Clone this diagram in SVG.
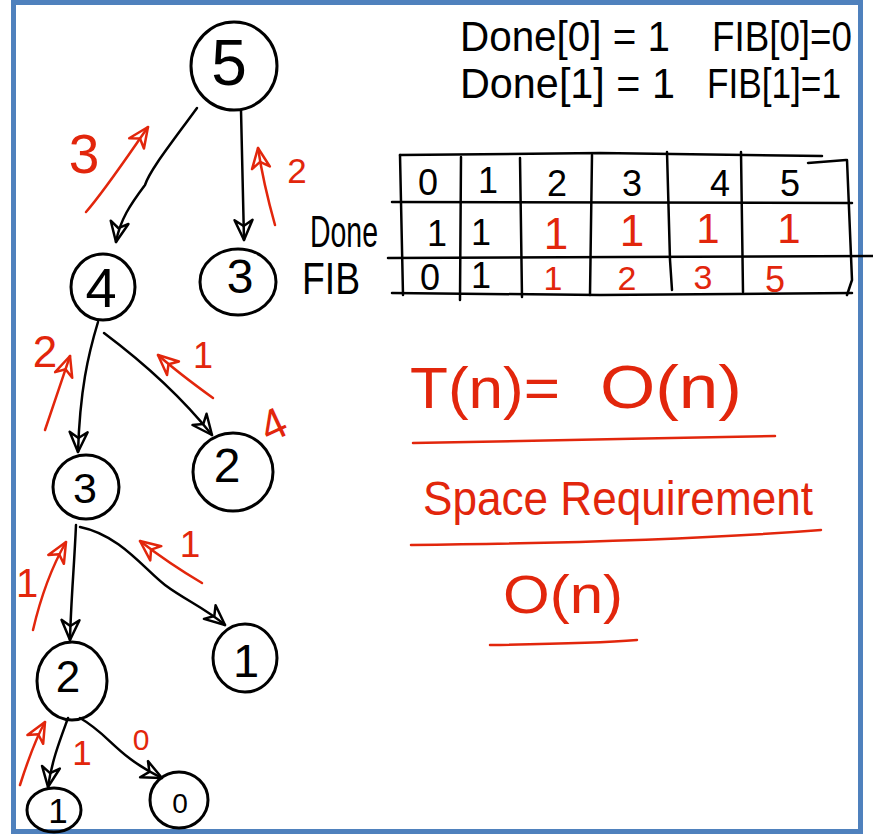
<svg xmlns="http://www.w3.org/2000/svg" width="873" height="835" viewBox="0 0 873 835">
<style>
.bg{fill:#ffffff}
.frame{fill:none;stroke:#4f81bd;stroke-width:5}
.node{fill:none;stroke:#000;stroke-width:3}
.nt{font-family:"Liberation Sans",Arial,sans-serif;fill:#000;text-anchor:middle}
.edge{fill:none;stroke:#000;stroke-width:2.5;stroke-linecap:round;marker-end:url(#ahB)}
.ret{fill:none;stroke:#e2260c;stroke-width:2.5;stroke-linecap:round;marker-end:url(#ahR)}
.rt{font-family:"Liberation Sans",Arial,sans-serif;fill:#e2260c}
.bt{font-family:"Liberation Sans",Arial,sans-serif;fill:#000}
.tl{fill:none;stroke:#000;stroke-width:2.5;stroke-linecap:round}
.ul{fill:none;stroke:#e2260c;stroke-width:2.5;stroke-linecap:round}
</style>
<defs>
<marker id="ahB" viewBox="0 0 24 24" refX="22" refY="12" markerWidth="24" markerHeight="24" markerUnits="userSpaceOnUse" orient="auto">
<path d="M2,3 L22,12 L2,21 L8,12 Z" fill="none" stroke="#000" stroke-width="2.5" stroke-linejoin="round"/>
</marker>
<marker id="ahR" viewBox="0 0 24 24" refX="22" refY="12" markerWidth="24" markerHeight="24" markerUnits="userSpaceOnUse" orient="auto">
<path d="M2,3 L22,12 L2,21 L8,12 Z" fill="none" stroke="#e2260c" stroke-width="2.5" stroke-linejoin="round"/>
</marker>
</defs>
<rect class="bg" x="0" y="0" width="873" height="835"/>
<rect class="frame" x="13.5" y="2.5" width="847" height="829"/>

<g id="connectors">
<path class="edge" d="M197,108 C170,145 150,170 145,185 C130,205 120,220 116,242"/>
<path class="edge" d="M241,110 L244,240"/>
<path class="edge" d="M98,322 C88,355 80,390 78,452"/>
<path class="edge" d="M104,333 C140,360 180,395 212,435"/>
<path class="edge" d="M76,525 C74,570 71,600 70,640"/>
<path class="edge" d="M80,527 C120,535 145,570 165,585 C185,600 205,608 225,625"/>
<path class="edge" d="M68,718 C60,740 52,760 48,787"/>
<path class="edge" d="M80,718 C110,735 115,755 162,778"/>
</g>

<g id="returns">
<path class="ret" d="M86,212 C105,190 125,160 148,127"/>
<text class="rt" x="84" y="173" font-size="55" text-anchor="middle">3</text>
<path class="ret" d="M275,225 C268,200 262,175 258,148"/>
<text class="rt" x="297" y="183" font-size="35" text-anchor="middle">2</text>
<path class="ret" d="M45,430 C55,400 62,380 70,356"/>
<text class="rt" x="45" y="367" font-size="44" text-anchor="middle">2</text>
<path class="ret" d="M213,398 C195,385 175,370 158,355"/>
<text class="rt" x="203" y="368" font-size="36" text-anchor="middle">1</text>
<text class="rt" x="272" y="440" font-size="44" text-anchor="middle" transform="rotate(-25 272 422)">4</text>
<path class="ret" d="M202,583 C180,570 158,555 140,541"/>
<text class="rt" x="190" y="557" font-size="37" text-anchor="middle">1</text>
<path class="ret" d="M33,630 C40,600 50,570 66,542"/>
<text class="rt" x="27" y="597" font-size="40" text-anchor="middle">1</text>
<path class="ret" d="M20,785 C28,760 35,740 45,722"/>
<text class="rt" x="82" y="765" font-size="35" text-anchor="middle">1</text>
<text class="rt" x="141" y="750" font-size="30" text-anchor="middle">0</text>
</g>

<g id="n5"><ellipse class="node" cx="234" cy="66" rx="43" ry="44"/><text class="nt" x="229" y="85" font-size="64">5</text></g>
<g id="n4"><ellipse class="node" cx="103" cy="287" rx="32" ry="33"/><text class="nt" x="101" y="307" font-size="56">4</text></g>
<g id="n3a"><ellipse class="node" cx="238" cy="282" rx="38" ry="33"/><text class="nt" x="240" y="293" font-size="48">3</text></g>
<g id="n3b"><ellipse class="node" cx="86" cy="487" rx="33" ry="32"/><text class="nt" x="85" y="503" font-size="43">3</text></g>
<g id="n2a"><ellipse class="node" cx="233" cy="472" rx="40" ry="39"/><text class="nt" x="227" y="482" font-size="48">2</text></g>
<g id="n1a"><ellipse class="node" cx="245" cy="658" rx="32" ry="34"/><text class="nt" x="246" y="677" font-size="47">1</text></g>
<g id="n2b"><ellipse class="node" cx="72" cy="681" rx="35" ry="39"/><text class="nt" x="68" y="692" font-size="44">2</text></g>
<g id="n1b"><ellipse class="node" cx="54" cy="810" rx="27" ry="22"/><text class="nt" x="58" y="823" font-size="35">1</text></g>
<g id="n0"><ellipse class="node" cx="179" cy="800" rx="29" ry="28"/><text class="nt" x="180" y="813" font-size="28">0</text></g>

<g id="base">
<text class="bt" x="460" y="51" font-size="42" textLength="210" lengthAdjust="spacingAndGlyphs">Done[0] = 1</text>
<text class="bt" x="712" y="51" font-size="42" textLength="140" lengthAdjust="spacingAndGlyphs">FIB[0]=0</text>
<text class="bt" x="460" y="98" font-size="42" textLength="215" lengthAdjust="spacingAndGlyphs">Done[1] = 1</text>
<text class="bt" x="707" y="98" font-size="42" textLength="134" lengthAdjust="spacingAndGlyphs">FIB[1]=1</text>
</g>

<g id="table">
<path class="tl" d="M400,155 L600,153 L822,156"/>
<path class="tl" d="M808,163 L846,160"/>
<path class="tl" d="M392,202 L852,203"/>
<path class="tl" d="M388,258 L620,257 L873,256"/>
<path class="tl" d="M392,293 L600,295 L852,293"/>
<path class="tl" d="M400,155 L403,295"/>
<path class="tl" d="M461,157 L460,300"/>
<path class="tl" d="M520,158 L522,297"/>
<path class="tl" d="M592,155 L590,295"/>
<path class="tl" d="M667,152 L670,260 L672,290"/>
<path class="tl" d="M741,152 L743,292"/>
<path class="tl" d="M847,160 L852,280 L847,295"/>
<text class="bt" x="310" y="247" font-size="44" textLength="68" lengthAdjust="spacingAndGlyphs">Done</text>
<text class="bt" x="302" y="294" font-size="44" textLength="58" lengthAdjust="spacingAndGlyphs">FIB</text>
<g class="nt" font-size="36">
<text x="428" y="195">0</text><text x="488" y="193">1</text><text x="557" y="196">2</text><text x="632" y="196">3</text><text x="720" y="196">4</text><text x="790" y="196">5</text>
<text x="437" y="246">1</text><text x="481" y="245">1</text>
<text x="430" y="290">0</text><text x="481" y="288">1</text>
</g>
<g class="rt" text-anchor="middle">
<text x="556" y="249" font-size="44">1</text><text x="632" y="246" font-size="44">1</text><text x="708" y="243" font-size="42">1</text><text x="789" y="243" font-size="42">1</text>
<text x="553" y="290" font-size="34">1</text><text x="627" y="290" font-size="34">2</text><text x="703" y="289" font-size="34">3</text><text x="775" y="292" font-size="36">5</text>
</g>
</g>

<g id="complexity">
<text class="rt" x="410" y="408" font-size="58" textLength="150" lengthAdjust="spacingAndGlyphs">T(n)=</text>
<text class="rt" x="600" y="408" font-size="62" textLength="142" lengthAdjust="spacingAndGlyphs">O(n)</text>
<path class="ul" d="M413,443 C550,441 650,438 775,436"/>
<text class="rt" x="423" y="515" font-size="48" textLength="390" lengthAdjust="spacingAndGlyphs">Space Requirement</text>
<path class="ul" d="M411,545 C600,543 720,538 821,530"/>
<text class="rt" x="503" y="613" font-size="54" textLength="120" lengthAdjust="spacingAndGlyphs">O(n)</text>
<path class="ul" d="M490,645 C560,644 600,643 637,640"/>
</g>
</svg>
